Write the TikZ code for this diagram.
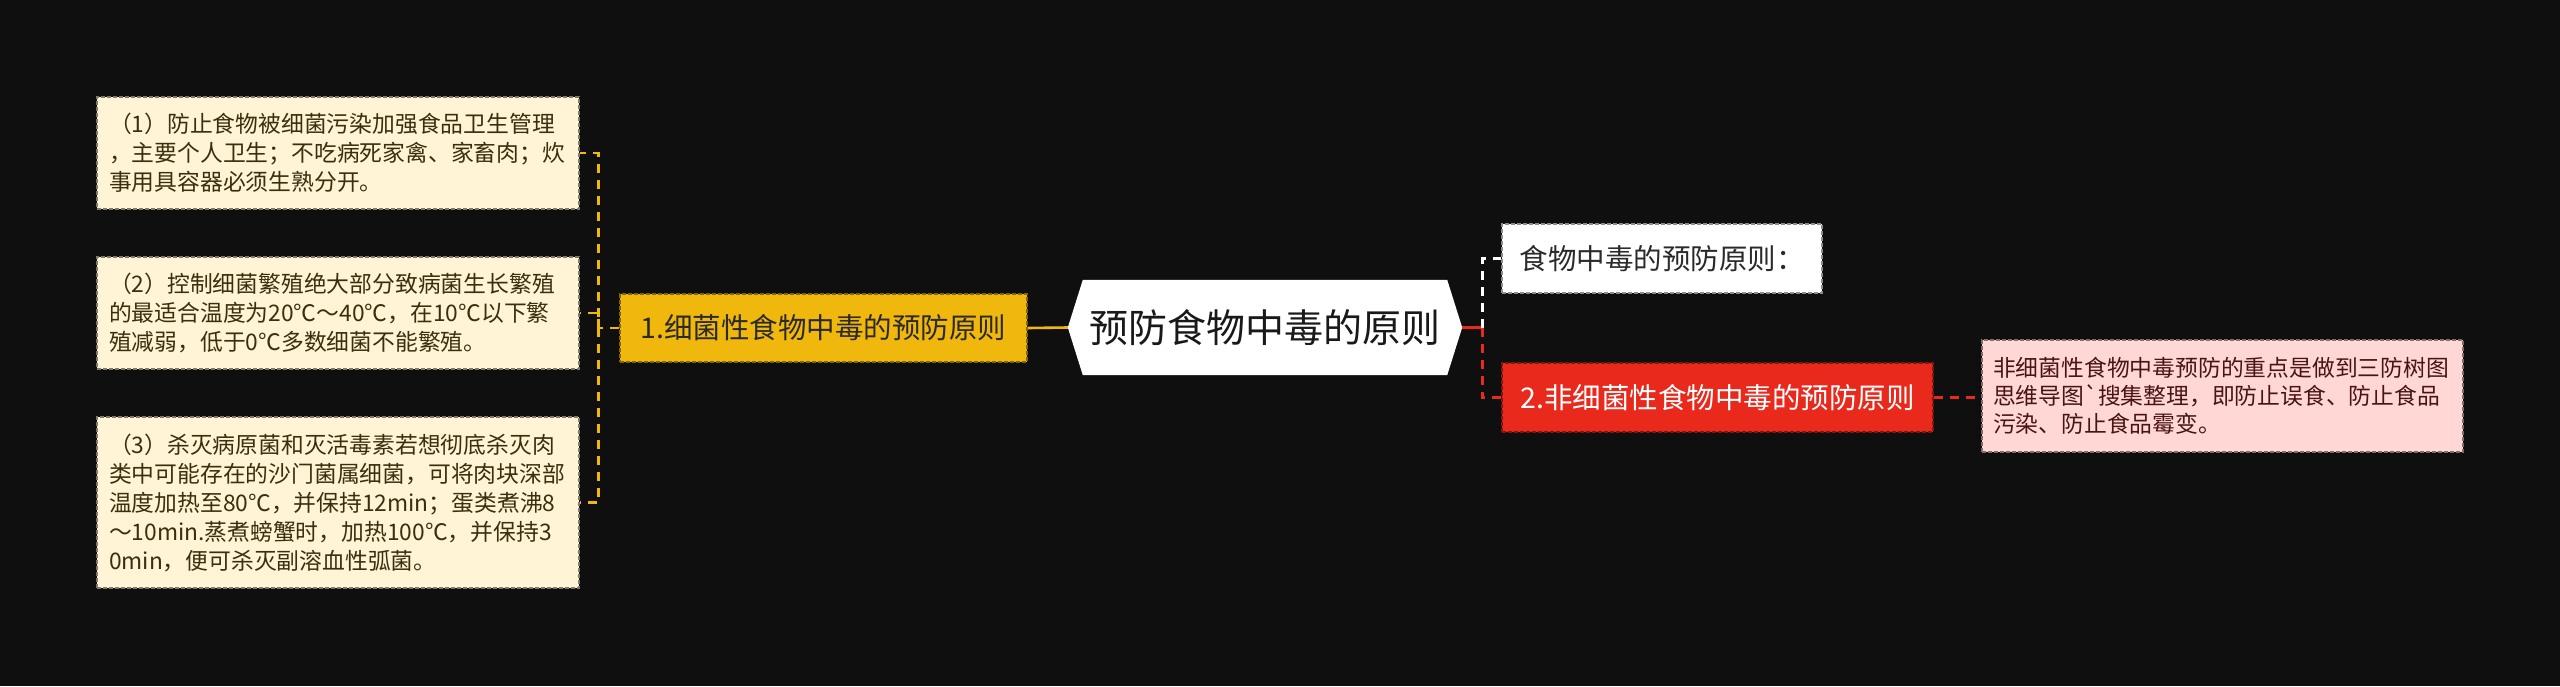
\documentclass[tikz,border=0pt]{standalone}
\usepackage{fontspec}
\setmainfont{Noto Sans CJK SC}
\usetikzlibrary{calc,backgrounds}
\definecolor{bgc}{HTML}{0F0F0F}
\definecolor{cream}{HTML}{FFF4D6}
\definecolor{creamtext}{HTML}{3A300E}
\definecolor{gold}{HTML}{F0B70C}
\definecolor{redbox}{HTML}{E8291C}
\definecolor{pinkbox}{HTML}{FFD8D6}
\definecolor{pinktext}{HTML}{4A1414}
\definecolor{darktext}{HTML}{2A2A2A}
\begin{document}
\begin{tikzpicture}[x=1pt,y=-1pt,
  boxline/.style={dash pattern=on 4pt off 2pt, line width=1.5pt},
  leafbox/.style={boxline, fill=cream, draw=cream!50!black, text=creamtext,
    font=\fontsize{22.8}{29}\selectfont, inner xsep=12pt, inner ysep=0pt,
    text width=458pt, align=left},
  pinkleaf/.style={boxline, fill=pinkbox, draw=pinkbox!50!black, text=pinktext,
    font=\fontsize{22.8}{28}\selectfont, inner xsep=11pt, inner ysep=0pt,
    text width=459pt, align=left},
  goldbox/.style={boxline, fill=gold, draw=gold!55!black, text=darktext,
    font=\fontsize{28.5}{34}\selectfont, inner sep=0pt},
  whitebox/.style={boxline, fill=white, draw=black!45, text=darktext,
    font=\fontsize{28.5}{34}\selectfont, inner sep=0pt},
  redlabel/.style={boxline, fill=redbox, draw=redbox!55!black, text=white,
    font=\fontsize{28.5}{34}\selectfont, inner sep=0pt},
  rootbox/.style={inner sep=0pt, text=black!90, font=\fontsize{39}{45}\selectfont,
    minimum width=364pt, minimum height=95pt},
  conn/.style={line width=2.6pt, dash pattern=on 9pt off 7pt},
  connsolid/.style={line width=2.6pt}
]
\useasboundingbox (0,0) rectangle (2560,686);

% left leaves
\node[leafbox, minimum height=112pt] (b1) at (338,153)
  {（1）防止食物被细菌污染加强食品卫生管理\\，主要个人卫生；不吃病死家禽、家畜肉；炊\\事用具容器必须生熟分开。};
\node[leafbox, minimum height=112pt] (b2) at (338,313)
  {（2）控制细菌繁殖绝大部分致病菌生长繁殖\\的最适合温度为20℃～40℃，在10℃以下繁\\殖减弱，低于0℃多数细菌不能繁殖。};
\node[leafbox, minimum height=171pt] (b3) at (338,502.5)
  {（3）杀灭病原菌和灭活毒素若想彻底杀灭肉\\类中可能存在的沙门菌属细菌，可将肉块深部\\温度加热至80℃，并保持12min；蛋类煮沸8\\～10min.蒸煮螃蟹时，加热100℃，并保持3\\0min，便可杀灭副溶血性弧菌。};

% branch 1
\node[goldbox, minimum width=407pt, minimum height=68pt] (y1) at (823.5,328) {1.细菌性食物中毒的预防原则};

% root
\node[rootbox] (c) at (1265,327.5) {预防食物中毒的原则};
\coordinate (cw) at ($(c.west)+(-15,0)$);
\coordinate (ce) at ($(c.east)+(15,0)$);

% right side
\node[whitebox, minimum width=320pt, minimum height=69pt] (w1) at (1662,258.5) {食物中毒的预防原则：};
\node[redlabel, minimum width=431pt, minimum height=69pt] (r1) at (1717.5,397.5) {2.非细菌性食物中毒的预防原则};
\node[pinkleaf, minimum height=112pt] (p1) at (2222.5,396)
  {非细菌性食物中毒预防的重点是做到三防树图\\思维导图\textasciigrave 搜集整理，即防止误食、防止食品\\污染、防止食品霉变。};

% connectors left
\draw[connsolid, gold] (cw) -- (y1.east);
\draw[conn, gold] (y1.west) -- ++(-21,0) coordinate (jl) |- (b1.east);
\draw[conn, gold] (jl) |- (b2.east);
\draw[conn, gold] (jl) |- (b3.east);

% connectors right
\draw[connsolid, redbox] (ce) -- ++(20,0) coordinate (jr);
\draw[conn, white] (jr) |- (w1.west);
\draw[conn, redbox] (jr) |- (r1.west);
\draw[conn, redbox] (r1.east) -- (r1.east -| p1.west);

\begin{scope}[on background layer]
\fill[bgc] (0,0) rectangle (2560,686);
\fill[white] (c.north west) -- (c.north east) -- (ce) -- (c.south east)
  -- (c.south west) -- (cw) -- cycle;
\end{scope}
\end{tikzpicture}
\end{document}
